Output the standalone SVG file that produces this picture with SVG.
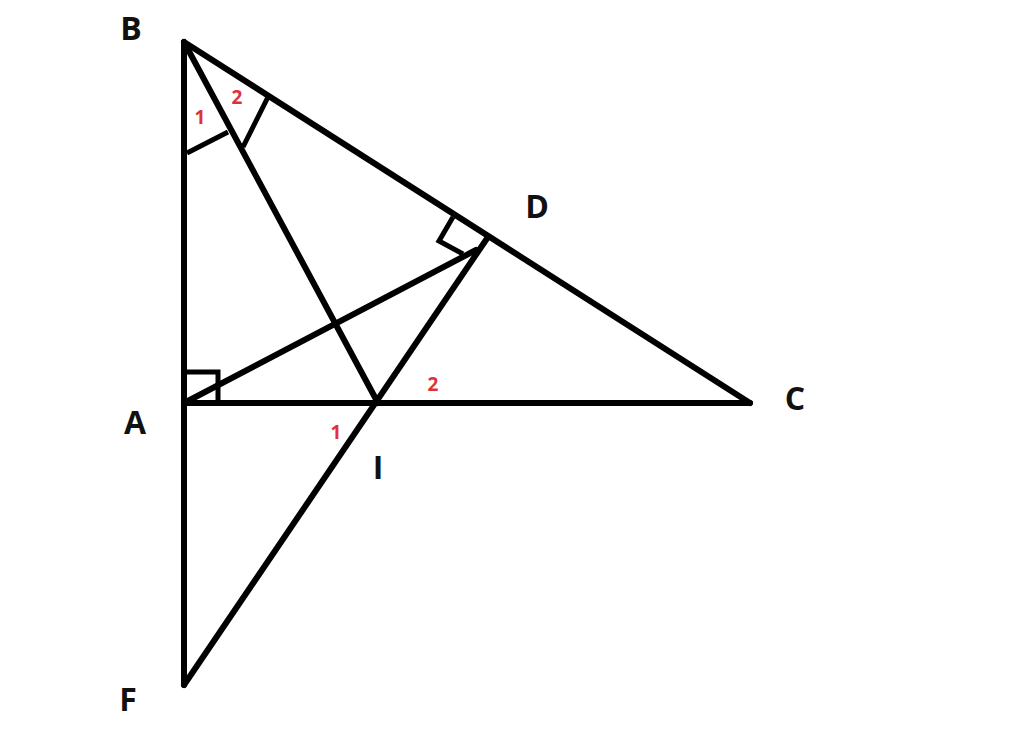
<svg xmlns="http://www.w3.org/2000/svg" width="1024" height="738" viewBox="0 0 1024 738">
<style>
.ln{stroke:#000;stroke-width:6;fill:none;stroke-linecap:round;stroke-linejoin:round}
.mk{stroke:#000;stroke-width:5;fill:none;stroke-linejoin:miter}
.lb{font-family:"Open Sans","Liberation Sans",sans-serif;font-weight:bold;font-size:32px;fill:#111;text-anchor:middle}
.rd{font-family:"Open Sans","Liberation Sans",sans-serif;font-weight:bold;font-size:19px;fill:#e0303a;text-anchor:middle}
</style>
<rect width="1024" height="738" fill="#fff"/>
<g id="connectors">
<line class="ln" x1="184" y1="42" x2="184" y2="685"/>
<line class="ln" x1="184" y1="42" x2="750" y2="403"/>
<line class="ln" x1="184" y1="403" x2="750" y2="403"/>
<line class="ln" x1="184" y1="42" x2="378" y2="403"/>
<line class="ln" x1="184" y1="685" x2="488" y2="237"/>
<line class="ln" x1="184" y1="403" x2="476" y2="250"/>
</g>
<g id="marks">
<polyline class="mk" points="185,372 218,372 218,403"/>
<polyline class="mk" points="453,217 439,241 463,254"/>
<line class="mk" x1="187" y1="153" x2="228" y2="132"/>
<line class="mk" x1="243" y1="147" x2="268" y2="97"/>
</g>
<g id="node-B"><text class="lb" x="131" y="40">B</text></g>
<g id="node-A"><text class="lb" x="135" y="434">A</text></g>
<g id="node-C"><text class="lb" x="795" y="410">C</text></g>
<g id="node-D"><text class="lb" x="537" y="218">D</text></g>
<g id="node-I"><text class="lb" x="378" y="479">I</text></g>
<g id="node-F"><text class="lb" x="128" y="711">F</text></g>
<g id="angles">
<text class="rd" x="200" y="124">1</text>
<text class="rd" x="237" y="104">2</text>
<text class="rd" x="336" y="439">1</text>
<text class="rd" x="433" y="391">2</text>
</g>
</svg>
